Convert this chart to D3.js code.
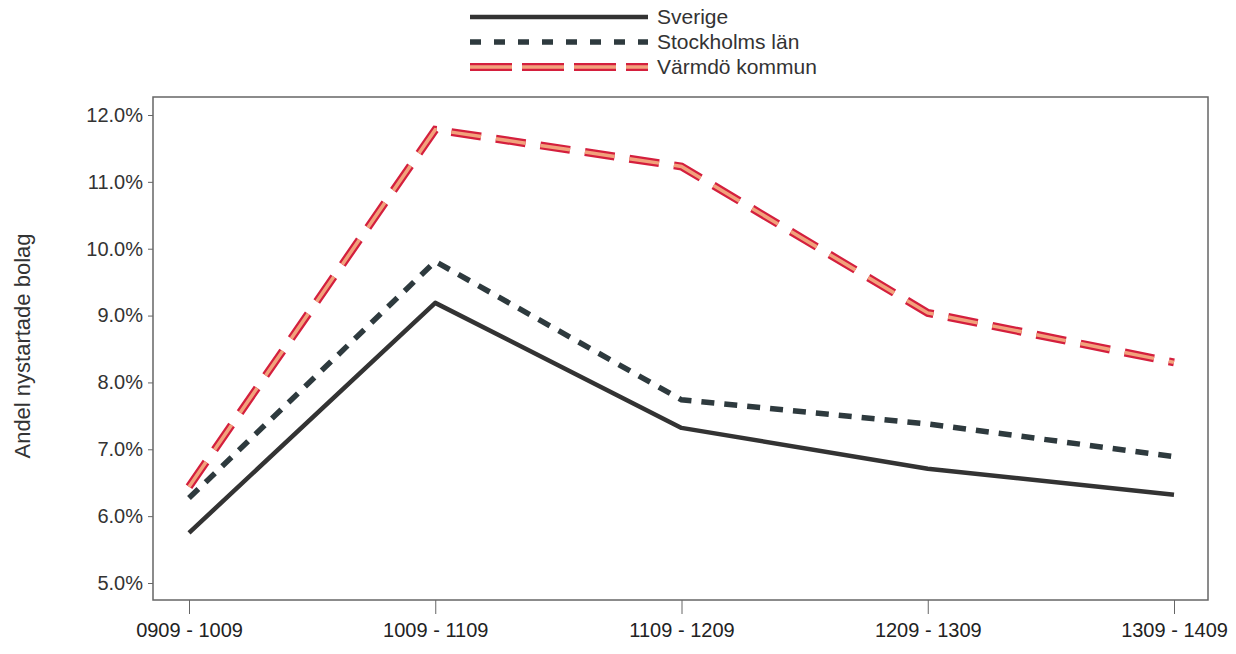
<!DOCTYPE html>
<html>
<head>
<meta charset="utf-8">
<script src="https://cdn.jsdelivr.net/npm/d3@7"></script>
<style>
  body { margin: 0; background: #fff; }
  svg { display: block; font-family: "Liberation Sans", Arial, sans-serif; }
</style>
</head>
<body>
<svg id="chart" width="1236" height="654"></svg>
<script>
// periods on the x axis
var periods = ["0909 - 1009", "1009 - 1109", "1109 - 1209", "1209 - 1309", "1309 - 1409"];
// share of newly started companies, in percent
var sverige = [5.75, 9.19, 7.32, 6.71, 6.32];
var stockholm = [6.27, 9.81, 7.74, 7.38, 6.89];
var varmdo = [6.44, 11.78, 11.23, 9.04, 8.30];
var yTicks = [5, 6, 7, 8, 9, 10, 11, 12];
var seriesNames = ["Sverige", "Stockholms län", "Värmdö kommun"];

var svg = d3.select("#chart");
var frame = {left: 153, right: 1208, top: 97, bottom: 600};

var x = d3.scalePoint().domain(periods).range([189, 1174]);
var y = d3.scaleLinear().domain([5, 12]).range([583, 115]);

// frame
svg.append("rect")
    .attr("x", frame.left).attr("y", frame.top)
    .attr("width", frame.right - frame.left).attr("height", frame.bottom - frame.top)
    .attr("fill", "none").attr("stroke", "#666").attr("stroke-width", 1.5);

// y axis
var yAxis = d3.axisLeft(y).tickValues(yTicks).tickSize(5).tickPadding(5)
    .tickFormat(function (d) { return d3.format(".1f")(d) + "%"; });
var gy = svg.append("g").attr("transform", "translate(" + frame.left + ",0)").call(yAxis);
gy.select(".domain").remove();
gy.selectAll("line").attr("stroke", "#666");
gy.selectAll("text").attr("fill", "#333").style("font-size", "20px");

// x axis
var xAxis = d3.axisBottom(x).tickSize(14).tickPadding(9);
var gx = svg.append("g").attr("transform", "translate(0," + frame.bottom + ")").call(xAxis);
gx.select(".domain").remove();
gx.selectAll("line").attr("stroke", "#666");
gx.selectAll("text").attr("fill", "#222").style("font-size", "20px");

// y title
svg.append("text")
    .attr("transform", "translate(22,346) rotate(-90)")
    .attr("text-anchor", "middle").attr("dy", "0.35em")
    .attr("fill", "#333").style("font-size", "22px")
    .text("Andel nystartade bolag");

var line = d3.line().x(function (d, i) { return x(periods[i]); }).y(function (d) { return y(d); });

function drawSverige(g, d) {
  g.append("path").attr("d", d).attr("fill", "none")
      .attr("stroke", "#333").attr("stroke-width", 4.5).attr("stroke-linejoin", "round");
}
function drawStockholm(g, d, dash) {
  g.append("path").attr("d", d).attr("fill", "none")
      .attr("stroke", "#2e3a3e").attr("stroke-width", 5.5).attr("stroke-dasharray", dash || "13,10");
}
function drawVarmdo(g, d, dash) {
  g.append("path").attr("d", d).attr("fill", "none")
      .attr("stroke", "#d41f3d").attr("stroke-width", 8).attr("stroke-dasharray", dash || "30,15");
  g.append("path").attr("d", d).attr("fill", "none")
      .attr("stroke", "#f2a27c").attr("stroke-width", 3.5).attr("stroke-dasharray", dash || "30,15");
}

var plot = svg.append("g");
drawVarmdo(plot, line(varmdo));
drawStockholm(plot, line(stockholm));
drawSverige(plot, line(sverige));

// legend
var drawers = [drawSverige, drawStockholm, drawVarmdo];
var legendDash = [null, "11,13", "42,10"];
var legend = svg.append("g");
seriesNames.forEach(function (name, i) {
  var ly = 17 + i * 25;
  drawers[i](legend, "M470," + ly + "H648", legendDash[i]);
  legend.append("text").attr("x", 657).attr("y", ly).attr("dy", "0.35em")
      .attr("fill", "#333").style("font-size", "21px").text(name);
});
</script>
</body>
</html>
